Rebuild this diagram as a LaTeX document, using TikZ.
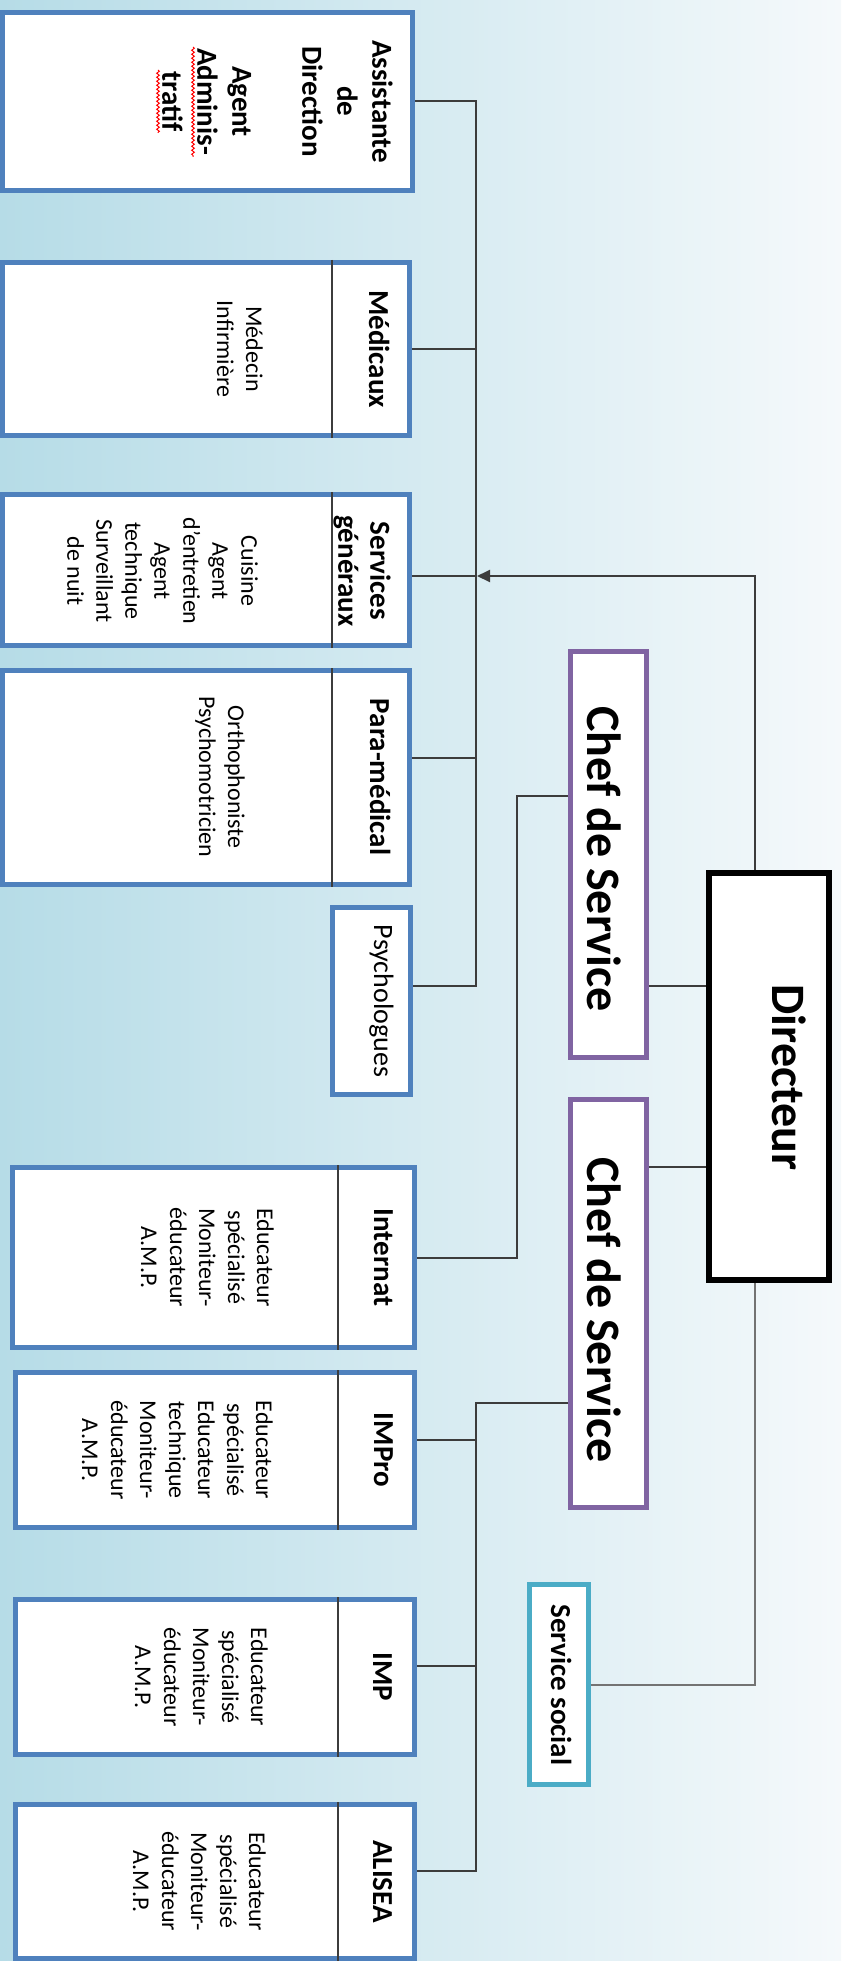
\documentclass[tikz,border=0pt]{standalone}
\usepackage{fontspec}
\setmainfont{Carlito}
\usetikzlibrary{arrows.meta,decorations.pathmorphing}
\definecolor{deptblue}{RGB}{79,129,189}
\definecolor{chefpurple}{RGB}{128,100,162}
\definecolor{socialcyan}{RGB}{75,172,198}
\definecolor{bgleft}{RGB}{182,220,231}
\definecolor{bgright}{RGB}{245,249,251}
\definecolor{linegray}{RGB}{60,60,60}
\tikzset{
    %Define standard arrow tip
    >={Triangle[length=13pt,width=12pt]},
    dept/.style={
      rectangle,
      draw=deptblue, line width=5pt,
      fill=white,
      inner sep=0pt},
    chef/.style={
      rectangle,
      draw=chefpurple, line width=5pt,
      fill=white,
      inner sep=0pt},
    boss/.style={
      rectangle,
      draw=black, line width=6pt,
      fill=white,
      inner sep=0pt},
    social/.style={
      rectangle,
      draw=socialcyan, line width=5pt,
      fill=white,
      inner sep=0pt},
    head/.style={
      rotate=-90, inner sep=0pt, anchor=base, align=center,
      font=\fontsize{29}{34}\selectfont\bfseries},
    staff/.style={
      rotate=-90, inner sep=0pt, anchor=north, align=center,
      font=\fontsize{24}{29}\selectfont},
    big/.style={
      rotate=-90, inner sep=0pt, anchor=base,
      font=\fontsize{48}{56}\selectfont\bfseries},
    link/.style={draw=linegray, line width=2pt},
    divider/.style={draw=linegray, line width=2pt},
    typo/.style={draw=red, line width=1pt,
      decorate, decoration={snake, amplitude=1.3pt, segment length=4pt}},
}

\begin{document}
\begin{tikzpicture}[x=1pt, y=-1pt]
    \useasboundingbox (0,0) rectangle (841,1961);
    \shade[left color=bgleft, right color=bgright] (0,0) rectangle (841,1961);

    % head and service chiefs
    \node (dir) [boss, minimum width=120pt, minimum height=407pt] at (769,1076.5) {};
    \node (dirtxt) [big] at (772,1077.5) {Directeur};
    \node (chefA) [chef, minimum width=76pt, minimum height=406pt] at (608.5,854.5) {};
    \node (chefAtxt) [big] at (587,859) {Chef de Service};
    \node (chefB) [chef, minimum width=76pt, minimum height=408pt] at (608.5,1303.5) {};
    \node (chefBtxt) [big] at (587,1310) {Chef de Service};
    \node (social) [social, minimum width=59pt, minimum height=200pt] at (559,1684.5) {};
    \node (socialtxt) [head] at (551,1685) {Service social};

    % staff attached to the director
    \node (assist) [dept, minimum width=410pt, minimum height=178pt] at (207.5,101.5) {};
    \node (assisttxt) [head, anchor=north, font=\fontsize{29}{35}\selectfont\bfseries] at (393,101.5)
          {Assistante\\de\\Direction\\[35pt]Agent\\Adminis-\\tratif};
    \draw[typo] (193,47) -- (193,157);
    \draw[typo] (158,70) -- (158,133);

    \node (medic) [dept, minimum width=407pt, minimum height=173pt] at (206,349) {};
    \draw[divider] ([xshift=332pt]medic.north west) -- ([xshift=332pt]medic.south west);
    \node (medichead) [head] at (369,349) {Médicaux};
    \node (medicstaff) [staff] at (263,349) {Médecin\\Infirmière};

    \node (serv) [dept, minimum width=407pt, minimum height=151pt] at (206,570) {};
    \draw[divider] ([xshift=332pt]serv.north west) -- ([xshift=332pt]serv.south west);
    \node (servhead) [head, anchor=north, font=\fontsize{29}{32}\selectfont\bfseries] at (391,571)
          {Services\\généraux};
    \node (servstaff) [staff] at (258,571)
          {Cuisine\\Agent\\d'entretien\\Agent\\technique\\Surveillant\\de nuit};

    \node (para) [dept, minimum width=407pt, minimum height=214pt] at (206,777.5) {};
    \draw[divider] ([xshift=332pt]para.north west) -- ([xshift=332pt]para.south west);
    \node (parahead) [head] at (370,777) {Para-médical};
    \node (parastaff) [staff] at (245,777) {Orthophoniste\\Psychomotricien};

    \node (psy) [dept, minimum width=78pt, minimum height=187pt] at (371.5,1001) {};
    \node (psyhead) [head, font=\fontsize{28}{34}\selectfont] at (374,1001) {Psychologues};

    % educational units
    \node (intern) [dept, minimum width=402pt, minimum height=180pt] at (213.5,1257.5) {};
    \draw[divider] ([xshift=328pt]intern.north west) -- ([xshift=328pt]intern.south west);
    \node (internhead) [head] at (374,1257.5) {Internat};
    \node (internstaff) [staff] at (274,1257.5)
          {Educateur\\spécialisé\\Moniteur-\\éducateur\\A.M.P.};

    \node (impro) [dept, minimum width=399pt, minimum height=155pt] at (215,1450) {};
    \draw[divider] ([xshift=325pt]impro.north west) -- ([xshift=325pt]impro.south west);
    \node (improhead) [head] at (374,1450) {IMPro};
    \node (improstaff) [staff] at (273,1450)
          {Educateur\\spécialisé\\Educateur\\technique\\Moniteur-\\éducateur\\A.M.P.};

    \node (imp) [dept, minimum width=399pt, minimum height=155pt] at (215,1677) {};
    \draw[divider] ([xshift=325pt]imp.north west) -- ([xshift=325pt]imp.south west);
    \node (imphead) [head] at (373,1677) {IMP};
    \node (impstaff) [staff] at (268,1677)
          {Educateur\\spécialisé\\Moniteur-\\éducateur\\A.M.P.};

    \node (alisea) [dept, minimum width=399pt, minimum height=154pt] at (215,1881.5) {};
    \draw[divider] ([xshift=325pt]alisea.north west) -- ([xshift=325pt]alisea.south west);
    \node (aliseahead) [head] at (373,1881.5) {ALISEA};
    \node (aliseastaff) [staff] at (266,1881.5)
          {Educateur\\spécialisé\\Moniteur-\\éducateur\\A.M.P.};

    % connectors
    \coordinate (upbus) at (476,0);
    \coordinate (lowbus) at (476,0);
    \coordinate (dirtap) at (755,0);
    \coordinate (chefAtap) at (517,0);
    \coordinate (chefAlvl) at (0,986);
    \coordinate (chefBlvl) at (0,1167);
    \coordinate (servtap) at ([yshift=-6pt]serv.east);
    \coordinate (paratap) at ([yshift=19.5pt]para.east);
    \coordinate (psytap) at ([yshift=15pt]psy.east);
    \coordinate (chefAout) at ([yshift=58.5pt]chefA.west);
    \coordinate (chefBout) at ([yshift=-99.5pt]chefB.west);
    \coordinate (improtap) at ([yshift=10pt]impro.east);
    \coordinate (imptap) at ([yshift=11pt]imp.east);
    \coordinate (aliseatap) at ([yshift=11pt]alisea.east);

    \draw[link] (assist.east) -- (assist.east -| upbus)
                -- (psytap -| upbus) -- (psytap);
    \draw[link] (medic.east) -- (medic.east -| upbus);
    \draw[link] (servtap) -- (servtap -| upbus);
    \draw[link] (paratap) -- (paratap -| upbus);
    \draw[link,->,shorten >=1pt] (dir.north -| dirtap) |- (servtap -| upbus);

    \draw[link] (dir.west |- chefAlvl) -- (chefA.east |- chefAlvl);
    \draw[link] (dir.west |- chefBlvl) -- (chefB.east |- chefBlvl);
    \draw[link] (chefAout) -| (intern.east -| chefAtap) -- (intern.east);

    \draw[link] (chefBout) -| (aliseatap -| lowbus) -- (aliseatap);
    \draw[link] (improtap) -- (improtap -| lowbus);
    \draw[link] (imptap) -- (imptap -| lowbus);
    \draw[link,draw=black!55] (dir.south -| dirtap) |- (social.east);
\end{tikzpicture}
\end{document}
